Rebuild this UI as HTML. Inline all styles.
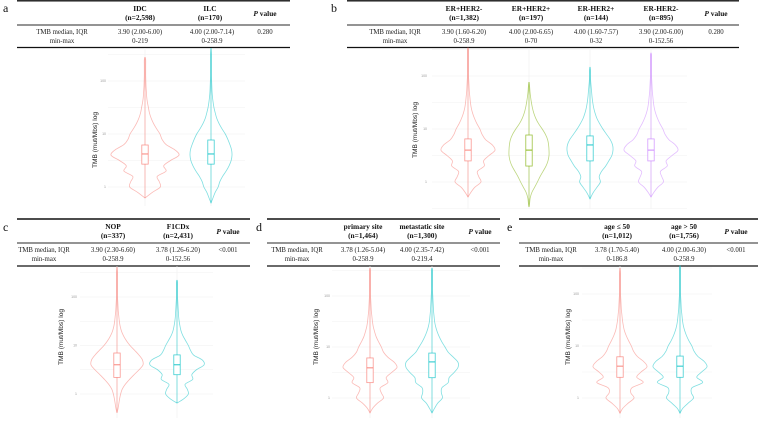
<!DOCTYPE html>
<html><head><meta charset="utf-8"><style>
html,body{margin:0;padding:0;background:#fff}
svg{display:block}
.t{font-family:"Liberation Serif",serif;font-size:6.8px;fill:#222;text-anchor:middle}
.h{font-family:"Liberation Serif",serif;font-size:7.4px;font-weight:bold;fill:#111;text-anchor:middle}
.lab{font-family:"Liberation Serif",serif;font-size:12px;fill:#111}
.yt{font-family:"Liberation Sans",sans-serif;font-size:6.6px;fill:#222;text-anchor:middle}
.tk{font-family:"Liberation Sans",sans-serif;font-size:3.5px;fill:#999;text-anchor:end}
</style></head><body>
<svg id="fig" width="759" height="423" viewBox="0 0 759 423" xmlns="http://www.w3.org/2000/svg">
<g>
<text class="lab" x="3" y="12">a</text>
<line x1="17" y1="0.8" x2="290" y2="0.8" stroke="#111" stroke-width="1.4"/>
<text class="h" x="140" y="11">IDC</text><text class="h" x="140" y="20">(n=2,598)</text>
<text class="h" x="210" y="11">ILC</text><text class="h" x="210" y="20">(n=170)</text>
<text class="h" x="265" y="16"><tspan font-style="italic">P</tspan> value</text>
<line x1="17" y1="25" x2="290" y2="25" stroke="#555" stroke-width="1.2"/>
<text class="t" x="62" y="34">TMB median, IQR</text><text class="t" x="62" y="43">min-max</text>
<text class="t" x="140" y="34">3.90 (2.00-6.00)</text><text class="t" x="140" y="43">0-219</text>
<text class="t" x="212" y="34">4.00 (2.00-7.14)</text><text class="t" x="212" y="43">0-258.9</text>
<text class="t" x="265" y="34">0.280</text>
<line x1="17" y1="47.5" x2="290" y2="47.5" stroke="#111" stroke-width="1.2"/>
</g>
<g>
<text class="lab" x="331" y="12">b</text>
<line x1="347" y1="0.8" x2="739" y2="0.8" stroke="#111" stroke-width="1.4"/>
<text class="h" x="464" y="11">ER+HER2-</text><text class="h" x="464" y="20">(n=1,382)</text>
<text class="h" x="531" y="11">ER+HER2+</text><text class="h" x="531" y="20">(n=197)</text>
<text class="h" x="596" y="11">ER-HER2+</text><text class="h" x="596" y="20">(n=144)</text>
<text class="h" x="661" y="11">ER-HER2-</text><text class="h" x="661" y="20">(n=895)</text>
<text class="h" x="716" y="16"><tspan font-style="italic">P</tspan> value</text>
<line x1="347" y1="25" x2="739" y2="25" stroke="#555" stroke-width="1.2"/>
<text class="t" x="395" y="34">TMB median, IQR</text><text class="t" x="395" y="43">min-max</text>
<text class="t" x="464" y="34">3.90 (1.60-6.20)</text><text class="t" x="464" y="43">0-258.9</text>
<text class="t" x="531" y="34">4.00 (2.00-6.65)</text><text class="t" x="531" y="43">0-70</text>
<text class="t" x="596" y="34">4.00 (1.60-7.57)</text><text class="t" x="596" y="43">0-32</text>
<text class="t" x="661" y="34">3.90 (2.00-6.00)</text><text class="t" x="661" y="43">0-152.56</text>
<text class="t" x="716" y="34">0.280</text>
<line x1="347" y1="47.5" x2="739" y2="47.5" stroke="#111" stroke-width="1.2"/>
</g>
<g>
<text class="lab" x="3" y="231">c</text>
<line x1="17" y1="219" x2="250" y2="219" stroke="#111" stroke-width="1.4"/>
<text class="h" x="113" y="229">NOP</text><text class="h" x="113" y="238">(n=337)</text>
<text class="h" x="178" y="229">F1CDx</text><text class="h" x="178" y="238">(n=2,431)</text>
<text class="h" x="228" y="234"><tspan font-style="italic">P</tspan> value</text>
<line x1="17" y1="243" x2="250" y2="243" stroke="#555" stroke-width="1.2"/>
<text class="t" x="44" y="252">TMB median, IQR</text><text class="t" x="44" y="261">min-max</text>
<text class="t" x="113" y="252">3.90 (2.30-6.60)</text><text class="t" x="113" y="261">0-258.9</text>
<text class="t" x="178" y="252">3.78 (1.26-6.20)</text><text class="t" x="178" y="261">0-152.56</text>
<text class="t" x="228" y="252">&lt;0.001</text>
<line x1="17" y1="266" x2="250" y2="266" stroke="#111" stroke-width="1.2"/>
</g>
<g>
<text class="lab" x="256" y="231">d</text>
<line x1="267" y1="219" x2="500" y2="219" stroke="#111" stroke-width="1.4"/>
<text class="h" x="363" y="229">primary site</text><text class="h" x="363" y="238">(n=1,464)</text>
<text class="h" x="422" y="229">metastatic site</text><text class="h" x="422" y="238">(n=1,300)</text>
<text class="h" x="480" y="234"><tspan font-style="italic">P</tspan> value</text>
<line x1="267" y1="243" x2="500" y2="243" stroke="#555" stroke-width="1.2"/>
<text class="t" x="297" y="252">TMB median, IQR</text><text class="t" x="297" y="261">min-max</text>
<text class="t" x="363" y="252">3.78 (1.26-5.04)</text><text class="t" x="363" y="261">0-258.9</text>
<text class="t" x="422" y="252">4.00 (2.35-7.42)</text><text class="t" x="422" y="261">0-219.4</text>
<text class="t" x="480" y="252">&lt;0.001</text>
<line x1="267" y1="266" x2="500" y2="266" stroke="#111" stroke-width="1.2"/>
</g>
<g>
<text class="lab" x="507" y="231">e</text>
<line x1="519" y1="219" x2="758" y2="219" stroke="#111" stroke-width="1.4"/>
<text class="h" x="617" y="229">age ≤ 50</text><text class="h" x="617" y="238">(n=1,012)</text>
<text class="h" x="684" y="229">age &gt; 50</text><text class="h" x="684" y="238">(n=1,756)</text>
<text class="h" x="736" y="234"><tspan font-style="italic">P</tspan>  value</text>
<line x1="519" y1="243" x2="758" y2="243" stroke="#555" stroke-width="1.2"/>
<text class="t" x="551" y="252">TMB median, IQR</text><text class="t" x="551" y="261">min-max</text>
<text class="t" x="617" y="252">3.78 (1.70-5.40)</text><text class="t" x="617" y="261">0-186.8</text>
<text class="t" x="684" y="252">4.00 (2.00-6.30)</text><text class="t" x="684" y="261">0-258.9</text>
<text class="t" x="736" y="252">&lt;0.001</text>
<line x1="519" y1="266" x2="758" y2="266" stroke="#111" stroke-width="1.2"/>
</g>
<g id="plots"></g>
</svg>
<script>
const levels = [-0.4,-0.3,-0.2,-0.1,0.0,0.1,0.2,0.3,0.4,0.5,0.6,0.7,0.8,0.9,1.0,1.1,1.2,1.3,1.4,1.5,1.6,1.7,1.8,1.9,2.0,2.1,2.2,2.3,2.4,2.5];
const tickVals = [1, 10, 100];
const tickLabels = ["1", "10", "100"];
const aGroups = ["IDC", "ILC"];
const aDensIDC = [0,0.02,0.08,0.22,0.45,0.42,0.36,0.62,0.55,0.75,1.0,0.88,0.62,0.5,0.44,0.34,0.25,0.18,0.13,0.1,0.07,0.05,0.04,0.03,0.025,0.02,0.015,0.01,0.01,0];
const aDensILC = [0,0.03,0.1,0.2,0.34,0.42,0.55,0.72,0.86,0.96,1.0,0.98,0.9,0.8,0.68,0.52,0.38,0.27,0.2,0.14,0.1,0.07,0.05,0.04,0.03,0.02,0.02,0.01,0.01,0];
const aMin = [0.62, 0.5], aQ1 = [2.7, 2.7], aMed = [4.2, 4.2], aQ3 = [6.2, 7.7], aMax = [282, 417];
const bGroups = ["ER+HER2-", "ER+HER2+", "ER-HER2+", "ER-HER2-"];
const bDens1 = [0,0.03,0.1,0.25,0.48,0.4,0.35,0.6,0.58,0.78,1.0,0.9,0.65,0.52,0.44,0.33,0.24,0.17,0.12,0.09,0.07,0.05,0.04,0.03,0.02,0.02,0.015,0.01,0.01,0];
const bDens2 = [0.03,0.06,0.14,0.28,0.42,0.55,0.7,0.85,0.95,1.0,1.0,0.98,0.93,0.82,0.66,0.48,0.34,0.24,0.17,0.12,0.08,0.05,0.03,0.02,0.01,0,0,0,0,0];
const bDens3 = [0,0.05,0.14,0.3,0.45,0.4,0.5,0.68,0.82,0.95,1.0,0.98,0.88,0.72,0.56,0.42,0.3,0.22,0.16,0.12,0.09,0.07,0.05,0.03,0.02,0.01,0,0,0,0];
const bDens4 = [0,0.03,0.1,0.25,0.46,0.4,0.35,0.6,0.56,0.78,1.0,0.9,0.66,0.52,0.44,0.33,0.24,0.17,0.12,0.09,0.07,0.05,0.04,0.03,0.02,0.02,0.015,0.01,0.01,0];
const bMin = [0.52, 0.34, 0.48, 0.52], bQ1 = [2.5, 2.0, 2.5, 2.5], bMed = [4.0, 4.0, 5.0, 4.0], bQ3 = [6.5, 7.7, 7.4, 6.5], bMax = [339, 77, 148, 270];
const cGroups = ["NOP", "F1CDx"];
const cDensNOP = [0.02,0.04,0.07,0.1,0.14,0.2,0.32,0.48,0.66,0.85,1.0,0.98,0.85,0.68,0.5,0.36,0.25,0.17,0.12,0.09,0.07,0.05,0.04,0.03,0.02,0.02,0.01,0.01,0.01,0];
const cDensF1 = [0,0.02,0.1,0.25,0.42,0.38,0.3,0.58,0.55,0.72,1.0,0.94,0.62,0.5,0.42,0.32,0.22,0.15,0.11,0.08,0.06,0.05,0.04,0.03,0.02,0.015,0.01,0.01,0,0];
const cMin = [0.41, 0.65], cQ1 = [2.2, 2.5], cMed = [4.0, 4.0], cQ3 = [7.0, 6.4], cMax = [415, 224];
const dGroups = ["primary site", "metastatic site"];
const dDensPrim = [0,0.03,0.1,0.28,0.5,0.42,0.38,0.66,0.6,0.8,1.0,0.9,0.66,0.5,0.42,0.32,0.23,0.17,0.12,0.09,0.07,0.05,0.04,0.03,0.02,0.02,0.015,0.01,0.01,0];
const dDensMet = [0,0.03,0.1,0.22,0.4,0.36,0.38,0.62,0.66,0.85,1.0,1.0,0.82,0.62,0.5,0.38,0.28,0.2,0.14,0.1,0.08,0.06,0.05,0.04,0.03,0.02,0.015,0.01,0.01,0];
const dMin = [0.51, 0.51], dQ1 = [2.0, 2.5], dMed = [3.9, 5.1], dQ3 = [6.1, 7.6], dMax = [355, 355];
const eGroups = ["age \u2264 50", "age > 50"];
const eDensLo = [0,0.03,0.1,0.3,0.52,0.4,0.45,0.86,0.62,0.78,1.0,0.88,0.64,0.5,0.42,0.32,0.23,0.16,0.12,0.09,0.07,0.05,0.04,0.03,0.02,0.02,0.015,0.01,0.01,0];
const eDensHi = [0,0.03,0.1,0.3,0.5,0.42,0.45,0.84,0.62,0.8,1.0,0.9,0.66,0.52,0.44,0.33,0.24,0.17,0.12,0.09,0.07,0.05,0.04,0.03,0.02,0.02,0.015,0.01,0.01,0];
const eMin = [0.51, 0.51], eQ1 = [2.5, 2.5], eMed = [4.1, 4.1], eQ3 = [6.2, 6.4], eMax = [316, 355];

const NS = "http://www.w3.org/2000/svg";
const root = document.getElementById("plots");
function mk(tag, attrs, parent) {
  const e = document.createElementNS(NS, tag);
  for (const k in attrs) e.setAttribute(k, attrs[k]);
  parent.appendChild(e);
  return e;
}
function densAt(d, L) {
  if (L <= levels[0]) return d[0];
  for (let i = 0; i < levels.length - 1; i++) {
    if (L <= levels[i + 1]) { const t = (L - levels[i]) / (levels[i + 1] - levels[i]); return d[i] + t * (d[i + 1] - d[i]); }
  }
  return d[d.length - 1];
}
function smooth(pts) {
  let s = "M" + pts[0][0].toFixed(2) + " " + pts[0][1].toFixed(2);
  for (let i = 0; i < pts.length - 1; i++) {
    const p0 = pts[Math.max(0, i - 1)], p1 = pts[i], p2 = pts[i + 1], p3 = pts[Math.min(pts.length - 1, i + 2)];
    const c1 = [p1[0] + (p2[0] - p0[0]) / 6, p1[1] + (p2[1] - p0[1]) / 6];
    const c2 = [p2[0] - (p3[0] - p1[0]) / 6, p2[1] - (p3[1] - p1[1]) / 6];
    s += " C" + c1[0].toFixed(2) + " " + c1[1].toFixed(2) + " " + c2[0].toFixed(2) + " " + c2[1].toFixed(2) + " " + p2[0].toFixed(2) + " " + p2[1].toFixed(2);
  }
  return s;
}
function panel(p) {
  const g = mk("g", {}, root);
  
  
  const y = v => p.y0 - p.k * Math.log10(v);
  const yL = L => p.y0 - p.k * L;
  for (let L = -0.5; L <= 2.5; L += 0.5) {
    const yy = yL(L);
    if (yy < p.top || yy > p.bot) continue;
    const gl = mk("line", {x1: p.gx0, x2: p.gx1, y1: yy, y2: yy, stroke: "#efefef", "stroke-width": Number.isInteger(L) ? 0.6 : 0.4}, g);
    
    
  }
  p.cx.forEach(c => {
    const vl = mk("line", {x1: c, x2: c, y1: p.top, y2: p.bot, stroke: "#efefef", "stroke-width": 0.6}, g);
    
    
  });
  tickVals.forEach((v, i) => {
    const t = mk("text", {class: "tk", x: p.tx, y: y(v) + 1.2}, g);
    t.textContent = tickLabels[i];
    
    
  });
  const yt = mk("text", {class: "yt", transform: "translate(" + p.ytx + "," + p.yty + ") rotate(-90)"}, g);
  yt.textContent = "TMB (mut/Mbs) log";
  
  
  p.groups.forEach((name, i) => {
    const c = p.cx[i], hw = p.hw[i], col = p.colors[i], d = p.dens[i];
    const lo = Math.log10(p.min[i]), hi = Math.log10(p.max[i]);
    const Ls = [lo];
    levels.forEach(L => { if (L > lo + 0.02 && L < hi - 0.02) Ls.push(L); });
    Ls.push(hi);
    const right = Ls.map((L, j) => [c + ((j === 0 || j === Ls.length - 1) ? 0 : Math.max(densAt(d, L), 0.02) * hw), yL(L)]);
    const left = Ls.slice().reverse().map((L, j, arr) => [c - ((j === 0 || j === arr.length - 1) ? 0 : Math.max(densAt(d, L), 0.02) * hw), yL(L)]);
    const vp = mk("path", {d: smooth(right) + " " + smooth(left).replace("M", "L") + " Z", fill: "none", stroke: col, "stroke-width": 0.8, "stroke-opacity": 0.5}, g);
    
    
    const w1 = mk("line", {x1: c, x2: c, y1: y(p.q3[i]), y2: y(p.max[i]), stroke: col, "stroke-width": 0.8, "stroke-opacity": 0.6}, g);
    
    
    const w2 = mk("line", {x1: c, x2: c, y1: y(p.q1[i]), y2: y(p.min[i]), stroke: col, "stroke-width": 0.8, "stroke-opacity": 0.6}, g);
    
    
    const bx = mk("rect", {x: c - p.bw, y: y(p.q3[i]), width: 2 * p.bw, height: y(p.q1[i]) - y(p.q3[i]), fill: "#fff", stroke: col, "stroke-width": 0.8, "stroke-opacity": 0.75}, g);
    
    
    const md = mk("line", {x1: c - p.bw, x2: c + p.bw, y1: y(p.med[i]), y2: y(p.med[i]), stroke: col, "stroke-width": 0.9}, g);
    
    
  });
}
const RED = "#F8766D", CY = "#00BFC4";
panel({name: "panel-a-violin", groups: aGroups, dens: [aDensIDC, aDensILC], min: aMin, q1: aQ1, med: aMed, q3: aQ3, max: aMax,
  y0: 187, k: 53, top: 48, bot: 206, gx0: 108, gx1: 245, tx: 106, ytx: 97, yty: 140, cx: [145, 211], hw: [34, 21], bw: 3.2, colors: [RED, CY]});
panel({name: "panel-b-violin", groups: bGroups, dens: [bDens1, bDens2, bDens3, bDens4], min: bMin, q1: bQ1, med: bMed, q3: bQ3, max: bMax,
  y0: 182, k: 53, top: 48, bot: 209, gx0: 432, gx1: 687, tx: 427, ytx: 417, yty: 130, cx: [468, 529, 590, 651], hw: [27, 20, 23, 27], bw: 3.2, colors: [RED, "#7CAE00", CY, "#C77CFF"]});
panel({name: "panel-c-violin", groups: cGroups, dens: [cDensNOP, cDensF1], min: cMin, q1: cQ1, med: cMed, q3: cQ3, max: cMax,
  y0: 394, k: 48.5, top: 266, bot: 418, gx0: 80, gx1: 213, tx: 77, ytx: 63, yty: 337, cx: [117, 177], hw: [26, 27], bw: 3.2, colors: [RED, CY]});
panel({name: "panel-d-violin", groups: dGroups, dens: [dDensPrim, dDensMet], min: dMin, q1: dQ1, med: dMed, q3: dQ3, max: dMax,
  y0: 398, k: 51, top: 266, bot: 418, gx0: 332, gx1: 470, tx: 330, ytx: 318, yty: 337, cx: [370, 432], hw: [27, 26], bw: 3.2, colors: [RED, CY]});
panel({name: "panel-e-violin", groups: eGroups, dens: [eDensLo, eDensHi], min: eMin, q1: eQ1, med: eMed, q3: eQ3, max: eMax,
  y0: 398, k: 52, top: 266, bot: 418, gx0: 582, gx1: 712, tx: 579, ytx: 570, yty: 337, cx: [620, 680], hw: [27, 27], bw: 3.2, colors: [RED, CY]});
</script>
</body></html>
